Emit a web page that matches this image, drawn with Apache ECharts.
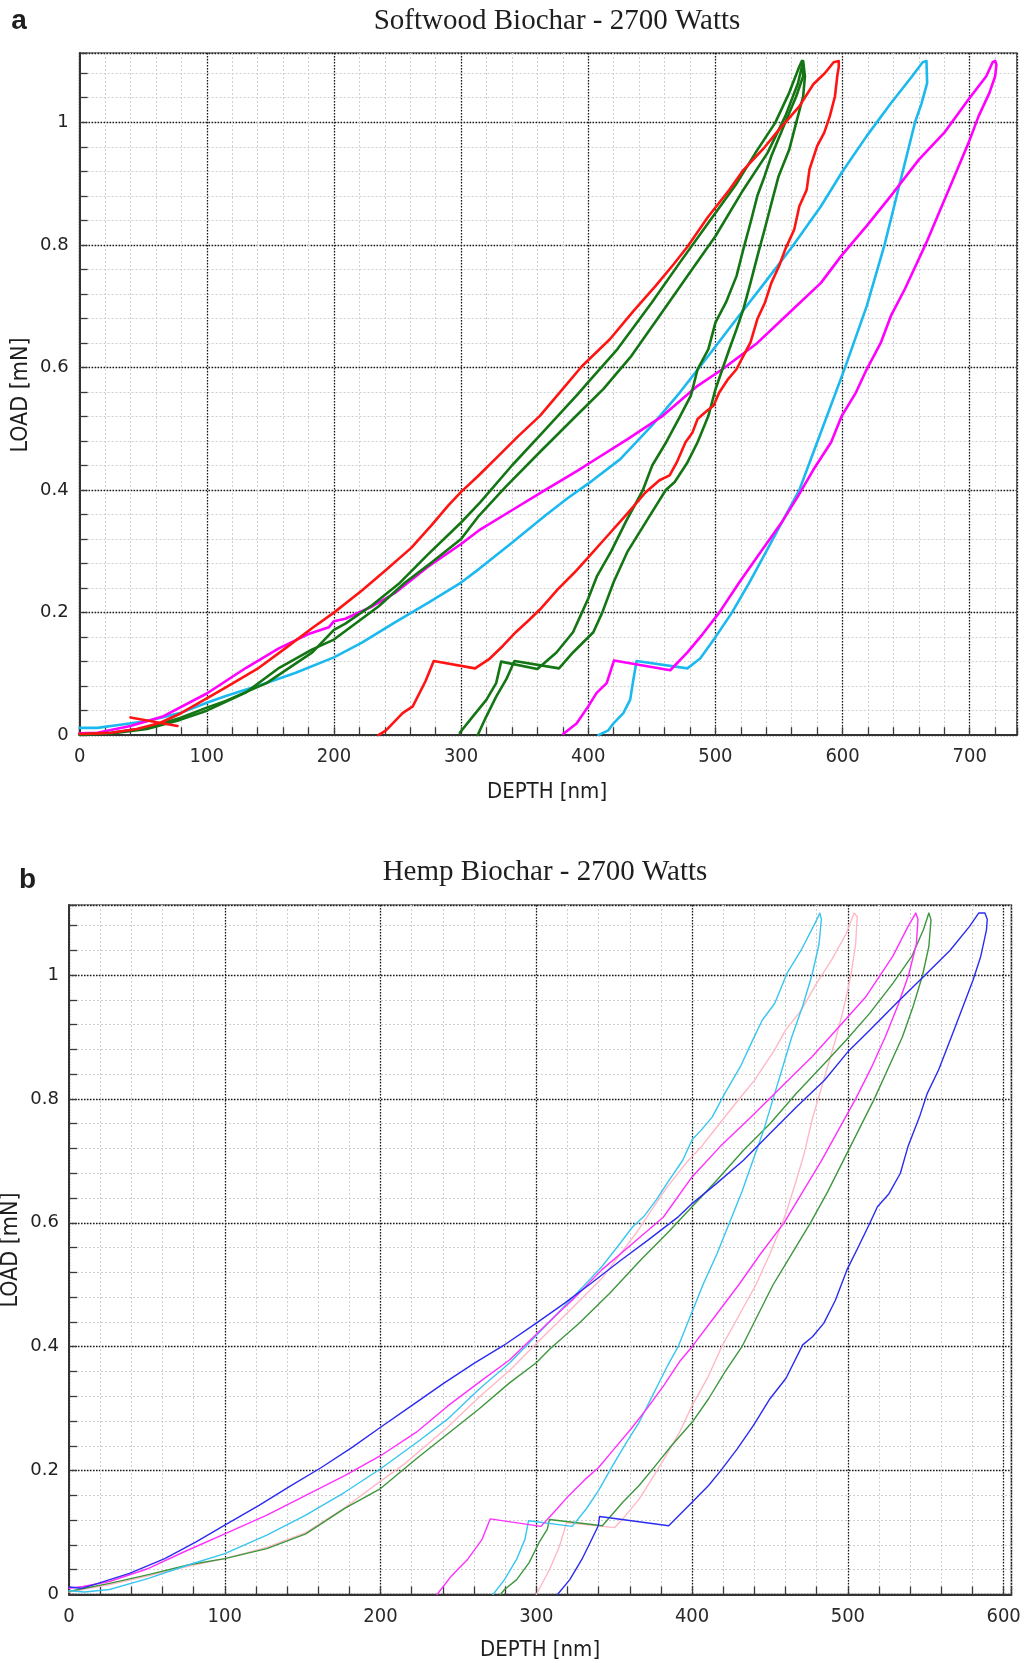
<!DOCTYPE html>
<html>
<head>
<meta charset="utf-8">
<script src="https://cdn.jsdelivr.net/npm/echarts@6/dist/echarts.min.js"></script>
<style>
  html, body { margin: 0; padding: 0; background: #fff; }
  #chart { width: 1028px; height: 1663px; }
</style>
</head>
<body>
<div id="chart"></div>
<script>
// Axis extents (depth in nm, load in mN)
const softwoodDepthMax = 737;
const hempDepthMax = 605;
const loadMax = 1.113;

// ---- Softwood biochar indentation curves: [depth nm, load mN] along the load-hold-unload path
const softwoodRed = [[0,0.002],[15,0.003],[25,0.004],[45,0.01],[63,0.02],[79,0.035],[100,0.06],[115,0.078],[141,0.11],[162,0.142],[183,0.175],[200,0.2],[222,0.236],[240,0.268],[261,0.306],[277,0.343],[290,0.375],[300,0.397],[313,0.422],[329,0.455],[345,0.488],[362,0.521],[378,0.56],[395,0.602],[417,0.646],[436,0.693],[453,0.733],[467,0.768],[478,0.797],[494,0.845],[511,0.89],[522,0.922],[539,0.96],[550,0.988],[566,1.026],[577,1.062],[586,1.08],[593,1.098],[597,1.1],
  [597,1.09],[596,1.078],[594,1.042],[590,1.01],[585.6,0.983],[580,0.961],[574,0.923],[571.8,0.89],[566,0.863],[562,0.825],[555,0.793],[550,0.765],[544,0.738],[539,0.706],[533,0.679],[527.6,0.641],[522,0.619],[516.6,0.597],[510,0.581],[503,0.559],[498.6,0.538],[492,0.527],[486,0.516],[482,0.494],[476.5,0.478],[469.6,0.445],[464,0.424],[456,0.416],[445,0.396],[430,0.36],[415,0.325],[400,0.29],[389,0.265],[376,0.238],[362,0.205],[352,0.185],[343,0.168],[333,0.146],[322,0.124],[311,0.109],
  [278.5,0.121],[272,0.088],[262,0.047],[254,0.036],[241,0.008],[235,0]];
const softwoodRedStart = [[40,0.029],[77,0.015]];
const softwoodGreen1 = [[0,0.001],[25,0.004],[53,0.012],[79,0.028],[100,0.045],[115,0.056],[147,0.085],[183,0.135],[200,0.172],[209,0.182],[230,0.212],[251,0.247],[274,0.295],[300,0.347],[315,0.38],[340,0.44],[366,0.498],[392,0.557],[400,0.576],[423,0.63],[450,0.706],[472,0.771],[494.5,0.836],[517,0.901],[533,0.955],[547,0.999],[558,1.048],[566,1.091],[568,1.1],
  [569,1.075],[563.5,1.042],[555,1.0],[544,0.945],[538.7,0.912],[533,0.88],[527.6,0.836],[522,0.793],[516.6,0.749],[508.3,0.706],[500,0.673],[494.5,0.63],[486,0.597],[480.7,0.554],[472.4,0.521],[461.3,0.478],[450.3,0.44],[443,0.4],[430,0.35],[418,0.3],[407,0.26],[400,0.223],[395,0.2],[388,0.168],[375,0.135],[360,0.108],
  [331.5,0.12],[327.6,0.085],[320,0.058],[309,0.03],[299,0.004]];
const softwoodGreen2 = [[0,0.001],[25,0.003],[53,0.01],[79,0.025],[100,0.04],[131,0.07],[157,0.11],[183,0.14],[200,0.156],[222,0.19],[235,0.21],[256,0.249],[277,0.282],[300,0.32],[314,0.358],[335,0.405],[362,0.462],[390,0.52],[412,0.565],[434,0.619],[456,0.684],[478,0.749],[500,0.814],[522,0.89],[541,0.95],[555,1.01],[565,1.064],[569,1.1],
  [570.4,1.075],[569,1.042],[563.5,0.999],[558,0.955],[549.7,0.912],[544.2,0.869],[538.7,0.825],[533.1,0.782],[527.6,0.738],[522,0.695],[516.6,0.662],[511,0.63],[505.5,0.597],[500,0.564],[494.5,0.521],[486,0.478],[478,0.445],[468,0.413],[461,0.4],[446,0.35],[431,0.3],[420,0.25],[411,0.2],[404,0.168],[388,0.135],[377,0.109],
  [342,0.121],[335.5,0.091],[327.6,0.063],[319.7,0.03],[313,0]];
const softwoodCyan = [[0,0.012],[14,0.012],[32,0.017],[53,0.023],[79,0.036],[100,0.053],[115,0.064],[144,0.083],[170,0.102],[200,0.127],[222,0.151],[248,0.184],[274,0.216],[300,0.249],[314,0.271],[340,0.314],[366,0.358],[384,0.387],[403,0.415],[425,0.45],[450,0.505],[472,0.559],[494.5,0.619],[516.6,0.679],[538.7,0.738],[560.8,0.798],[583,0.863],[599.4,0.918],[618.8,0.977],[638,1.031],[654.7,1.075],[663,1.098],[666,1.1],
  [667,1.097],[666.5,1.064],[662,1.03],[657,1.0],[651,0.95],[645,0.9],[639,0.85],[633,0.8],[619,0.7],[602,0.6],[584,0.5],[566,0.4],[553,0.35],[540,0.3],[527,0.25],[513,0.2],[500,0.16],[488,0.125],[478,0.109],
  [438,0.121],[435.5,0.091],[433,0.058],[427.6,0.036],[419.7,0.019],[415.8,0.008],[408,0]];
const softwoodMagenta = [[0,0.003],[14,0.004],[40,0.015],[66,0.031],[100,0.068],[131,0.11],[157,0.142],[180,0.165],[196,0.176],[200,0.186],[209,0.19],[230,0.21],[248,0.232],[274,0.275],[300,0.312],[314,0.334],[340,0.367],[366,0.4],[392,0.432],[398,0.44],[431,0.483],[458.6,0.521],[486,0.57],[505.5,0.597],[533,0.64],[561,0.695],[583,0.738],[599,0.782],[619,0.831],[638,0.88],[660,0.939],[680,0.983],[699,1.037],[713,1.075],[718,1.098],[720,1.1],
  [721,1.094],[720,1.075],[715.5,1.048],[707,1.01],[699,0.966],[688,0.912],[677,0.858],[666,0.804],[657.5,0.766],[649,0.728],[638,0.684],[630,0.64],[619,0.597],[610.5,0.559],[599.4,0.521],[591,0.478],[577,0.433],[565,0.39],[553,0.35],[536,0.3],[519,0.25],[503,0.2],[490,0.165],[478,0.135],[464.5,0.106],
  [420.3,0.122],[414.5,0.085],[406.6,0.069],[400,0.047],[390.8,0.019],[380.3,0.002]];

// ---- Hemp biochar indentation curves
const hempCyan = [[0,0.006],[10,0.004],[26,0.008],[51,0.026],[77,0.048],[100,0.066],[127,0.096],[152,0.128],[177,0.165],[200,0.203],[223,0.245],[243,0.283],[263,0.331],[283,0.374],[300,0.418],[316,0.46],[330,0.497],[342,0.529],[352,0.561],[362,0.594],[369,0.61],[377,0.637],[384,0.664],[394,0.701],[400,0.734],[406,0.75],[413,0.771],[421,0.809],[431,0.852],[438,0.89],[445,0.927],[453,0.954],[461,1.003],[470,1.04],[480,1.089],[482,1.1],
  [483,1.09],[481.5,1.05],[477,1.0],[471,0.95],[464,0.9],[458,0.85],[452,0.8],[446,0.75],[439,0.7],[432,0.65],[424,0.6],[416,0.55],[407,0.5],[399,0.45],[391,0.4],[384.4,0.37],[379,0.343],[372.6,0.311],[366,0.278],[358,0.246],[349,0.208],[340,0.168],[332,0.138],[323,0.11],
  [295,0.119],[292.7,0.089],[287.4,0.057],[279.6,0.024],[272.2,0]];
const hempPink = [[0,0.004],[26,0.016],[51,0.03],[77,0.046],[100,0.058],[127,0.076],[152,0.1],[177,0.14],[200,0.183],[215,0.21],[243,0.27],[263,0.318],[283,0.362],[300,0.405],[320,0.455],[342,0.51],[364,0.583],[374,0.621],[384,0.658],[396,0.696],[406,0.723],[416,0.755],[428,0.793],[440,0.83],[453,0.879],[460,0.911],[470,0.943],[480,0.987],[489.5,1.024],[499,1.067],[504,1.1],
  [506,1.094],[505,1.05],[502,1.0],[497,0.943],[492,0.895],[487,0.852],[482,0.809],[477,0.766],[472,0.712],[467,0.669],[461,0.621],[458,0.6],[450,0.55],[441,0.5],[430,0.45],[419,0.4],[410,0.35],[400,0.305],[392,0.262],[382,0.219],[374,0.186],[366,0.154],[355.5,0.122],[350.3,0.108],
  [319.4,0.116],[314.9,0.078],[308.4,0.04],[300,0]];
const hempMagenta = [[0,0.01],[9,0.013],[26,0.021],[51,0.042],[74,0.069],[100,0.098],[127,0.128],[152,0.16],[177,0.192],[200,0.224],[223,0.262],[243,0.304],[263,0.342],[283,0.379],[300,0.42],[316,0.459],[323,0.475],[342,0.524],[362,0.567],[381.5,0.609],[400,0.674],[418,0.723],[438,0.771],[457.6,0.82],[477,0.868],[494.5,0.917],[511.6,0.965],[528.8,1.03],[538.6,1.078],[543.6,1.1],
  [545,1.09],[544,1.05],[539,1.0],[532,0.95],[524,0.9],[515,0.85],[505,0.8],[494,0.75],[483,0.7],[471,0.65],[459,0.6],[444,0.55],[430,0.5],[415,0.45],[400,0.4],[392,0.376],[382,0.338],[371,0.3],[361,0.268],[350,0.235],[340,0.205],[331,0.185],[321,0.16],[311,0.132],[303,0.11],
  [270.4,0.122],[265.2,0.089],[256,0.057],[245.5,0.03],[236.3,0]];
const hempGreen = [[0,0.005],[10,0.01],[26,0.018],[51,0.032],[77,0.048],[100,0.058],[127,0.074],[152,0.098],[177,0.139],[200,0.171],[223,0.219],[243,0.259],[263,0.299],[283,0.342],[300,0.374],[309,0.397],[327.5,0.438],[347,0.486],[367,0.54],[384,0.583],[400,0.626],[416,0.669],[433,0.717],[450,0.76],[467,0.809],[485,0.857],[499,0.895],[514,0.938],[529,0.987],[541,1.03],[548.5,1.073],[552,1.1],
  [553.4,1.089],[552,1.046],[548,1.0],[542,0.95],[535,0.9],[526,0.85],[517,0.8],[507,0.75],[497,0.7],[487,0.65],[476,0.6],[464,0.55],[452,0.5],[442,0.45],[432,0.4],[421,0.359],[410.6,0.316],[400,0.278],[387,0.241],[376.5,0.208],[366,0.176],[355.5,0.149],[342.4,0.111],
  [308.4,0.121],[307,0.105],[301.8,0.084],[295.3,0.051],[287.4,0.024],[279.6,0.008],[277,0]];
const hempBlue = [[0,0.012],[8,0.01],[18.6,0.018],[38.8,0.034],[61.5,0.058],[81.6,0.085],[100,0.112],[122,0.144],[142,0.175],[162,0.205],[182,0.238],[200,0.27],[220,0.305],[240,0.34],[260,0.373],[279,0.402],[300,0.438],[318,0.47],[335,0.502],[354.5,0.54],[371.7,0.572],[391.3,0.61],[400,0.631],[416,0.664],[433,0.701],[450,0.744],[467,0.787],[485,0.83],[500,0.876],[514,0.911],[531,0.954],[548.5,0.997],[565.7,1.04],[578,1.078],[584,1.1],[588,1.1],
  [589.5,1.09],[589,1.073],[585.3,1.03],[580.4,0.992],[573,0.943],[565.7,0.895],[558.3,0.847],[551,0.809],[546,0.771],[538.6,0.723],[533.7,0.68],[526.4,0.647],[519,0.626],[514,0.599],[506.7,0.561],[499.4,0.524],[492,0.475],[484.6,0.438],[477.3,0.416],[471,0.403],[460.3,0.349],[450,0.316],[439.4,0.273],[429,0.235],[418.4,0.2],[410.6,0.176],[400,0.149],[385,0.111],
  [340.6,0.126],[339.8,0.111],[334.6,0.084],[329.3,0.057],[321.5,0.024],[313.6,0]];

// ---- Layout of the two panels
const panels = [
  { left: 79.6, top: 53, width: softwoodDepthMax * 1.2716, height: 682.2, labelMargin: 11, xMargin: 12 },
  { left: 69, top: 905, width: hempDepthMax * 1.5577, height: 689.5, labelMargin: 10, xMargin: 12 }
];

const isMultiple = (v, step) => Math.abs(v / step - Math.round(v / step)) < 1e-6;
const narrow = '"DejaVu Sans Condensed", "Liberation Sans Narrow", sans-serif';

function depthAxes(gi, max) {
  return [
    { // minor: 20 nm ticks and faint grid
      type: 'value', gridIndex: gi, min: 0, max: max, interval: 20, position: 'bottom',
      axisLine: { show: false, onZero: false },
      axisTick: { show: true, inside: true, length: 8, lineStyle: { color: '#3a3a3a', width: 1.3 } },
      axisLabel: { show: false },
      splitLine: { show: true, lineStyle: { color: '#d0d0d0', width: 1, type: [2, 2] } }
    },
    { // major: 100 nm grid and labels
      type: 'value', gridIndex: gi, min: 0, max: max, interval: 100, position: 'bottom',
      axisLine: { show: true, onZero: false, lineStyle: { color: '#333', width: 2 } },
      axisTick: { show: false },
      axisLabel: {
        margin: panels[gi].xMargin, color: '#2a2a2a',
        fontFamily: narrow, fontSize: 20,
        formatter: v => isMultiple(v, 100) ? String(Math.round(v)) : ''
      },
      splitLine: { show: true, lineStyle: { color: '#1a1a1a', width: 1.3, type: [1.5, 1.5] } }
    }
  ];
}

function loadAxes(gi) {
  return [
    {
      type: 'value', gridIndex: gi, min: 0, max: loadMax, interval: 0.04, position: 'left',
      axisLine: { show: false, onZero: false },
      axisTick: { show: true, inside: true, length: 8, lineStyle: { color: '#3a3a3a', width: 1.3 } },
      axisLabel: { show: false },
      splitLine: { show: true, lineStyle: { color: '#d0d0d0', width: 1, type: [2, 2] } }
    },
    {
      type: 'value', gridIndex: gi, min: 0, max: loadMax, interval: 0.2, position: 'left',
      axisLine: { show: true, onZero: false, lineStyle: { color: '#333', width: 2 } },
      axisTick: { show: false },
      axisLabel: {
        margin: panels[gi].labelMargin, color: '#222',
        fontFamily: '"DejaVu Sans", sans-serif', fontSize: 18,
        formatter: v => isMultiple(v, 0.2) ? String(+v.toFixed(1)) : ''
      },
      splitLine: { show: true, lineStyle: { color: '#1a1a1a', width: 1.3, type: [1.5, 1.5] } }
    }
  ];
}

function curve(data, color, width, gi) {
  return {
    type: 'line', data: data, xAxisIndex: gi * 2 + 1, yAxisIndex: gi * 2 + 1,
    symbol: 'none', showSymbol: false, smooth: false, animation: false, silent: true,
    lineStyle: { color: color, width: width, join: 'round', cap: 'round' },
    itemStyle: { color: color }
  };
}

function label(text, x, y, font, rotation) {
  return {
    type: 'text', x: x, y: y, rotation: rotation || 0, silent: true,
    style: { text: text, font: font, fill: '#1e1e1e', textAlign: 'center', textVerticalAlign: 'middle' }
  };
}

const chart = echarts.init(document.getElementById('chart'), null, { renderer: 'canvas' });
chart.setOption({
  backgroundColor: '#ffffff',
  animation: false,
  grid: panels.map(p => ({
    left: p.left, top: p.top, width: p.width, height: p.height,
    show: true, borderColor: '#666', borderWidth: 1.5, backgroundColor: '#fff'
  })),
  xAxis: [...depthAxes(0, softwoodDepthMax), ...depthAxes(1, hempDepthMax)],
  yAxis: [...loadAxes(0), ...loadAxes(1)],
  series: [
    curve(softwoodCyan, '#1cb9ef', 2.6, 0),
    curve(softwoodMagenta, '#ff00ff', 2.6, 0),
    curve(softwoodGreen2, '#137513', 2.6, 0),
    curve(softwoodGreen1, '#137513', 2.6, 0),
    curve(softwoodRed, '#ff1414', 2.6, 0),
    curve(softwoodRedStart, '#ff1414', 2.6, 0),
    curve(hempPink, '#ffb8c6', 1.4, 1),
    curve(hempGreen, '#3d973d', 1.4, 1),
    curve(hempCyan, '#38c6f0', 1.4, 1),
    curve(hempMagenta, '#ff30ff', 1.4, 1),
    curve(hempBlue, '#2b2bf2', 1.4, 1)
  ],
  graphic: [
    label('a', 19, 21, 'bold 28px "Liberation Sans", Arial, sans-serif'),
    label('Softwood Biochar - 2700 Watts', 557, 21, '29px "Liberation Serif", serif'),
    label('DEPTH [nm]', 547, 792, '22px ' + narrow),
    label('LOAD [mN]', 21, 395, '23px ' + narrow, Math.PI / 2),
    label('b', 27.6, 880, 'bold 28px "Liberation Sans", Arial, sans-serif'),
    label('Hemp Biochar - 2700 Watts', 545, 872, '29px "Liberation Serif", serif'),
    label('DEPTH [nm]', 540, 1650, '22px ' + narrow),
    label('LOAD [mN]', 11, 1250, '23px ' + narrow, Math.PI / 2)
  ]
});
</script>
</body>
</html>
